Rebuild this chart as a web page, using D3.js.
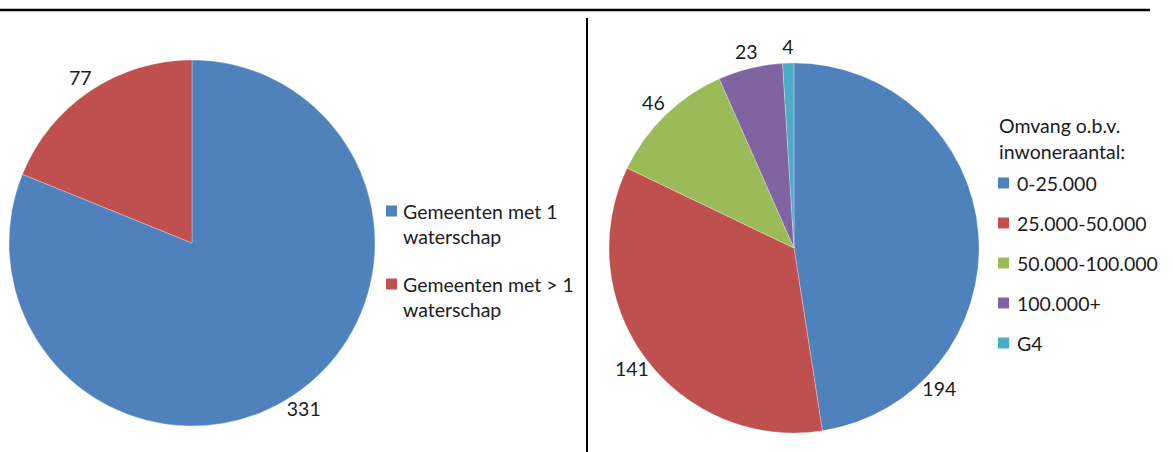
<!DOCTYPE html>
<html>
<head>
<meta charset="utf-8">
<script src="https://cdn.jsdelivr.net/npm/d3@7"></script>
<style>
  body { margin: 0; background: #fff; }
  text { font-family: Lato, "Open Sans", sans-serif; fill: #1c1c1c; }
</style>
</head>
<body>
<div id="chart"></div>
<script>
// Left pie: municipalities by number of water boards
const leftCategories = ['Gemeenten met 1 waterschap', 'Gemeenten met > 1 waterschap'];
const leftLegendLines = [['Gemeenten met 1', 'waterschap'], ['Gemeenten met > 1', 'waterschap']];
const leftValues = [331, 77];
const leftColors = ['#4F81BD', '#C0504D'];

// Right pie: municipalities by population size
const rightTitle = ['Omvang o.b.v.', 'inwoneraantal:'];
const rightCategories = ['0-25.000', '25.000-50.000', '50.000-100.000', '100.000+', 'G4'];
const rightValues = [194, 141, 46, 23, 4];
const rightColors = ['#4F81BD', '#C0504D', '#9BBB59', '#8064A2', '#4BACC6'];

const width = 1173, height = 452;
const fontSize = 19.5;

const svg = d3.select('#chart')
  .append('svg')
  .attr('width', width)
  .attr('height', height);

svg.append('rect').attr('width', width).attr('height', height).attr('fill', '#fff');

// frame lines
svg.append('line')
  .attr('x1', 0).attr('x2', 1150).attr('y1', 10).attr('y2', 10)
  .attr('stroke', '#000').attr('stroke-width', 2.5);
svg.append('line')
  .attr('x1', 587).attr('x2', 587).attr('y1', 18).attr('y2', height)
  .attr('stroke', '#000').attr('stroke-width', 2);

const pie = d3.pie().sort(null).value(d => d);

// draws one pie with outside-end labels
function drawPie(cx, cy, r, values, colors, labelAngles) {
  const g = svg.append('g').attr('transform', `translate(${cx},${cy})`);
  const arcs = pie(values);
  const arc = d3.arc().innerRadius(0).outerRadius(r);

  g.selectAll('path')
    .data(arcs)
    .enter()
    .append('path')
    .attr('d', arc)
    .attr('fill', (d, i) => colors[i])
    .attr('stroke', 'rgba(255,255,255,0.35)')
    .attr('stroke-width', 0.8);

  const labelR = r + 17;
  const angle = (d, i) => labelAngles[i] != null ? labelAngles[i] : (d.startAngle + d.endAngle) / 2;
  g.selectAll('text.lbl')
    .data(arcs)
    .enter()
    .append('text')
    .attr('class', 'lbl')
    .attr('x', (d, i) => labelR * Math.sin(angle(d, i)))
    .attr('y', (d, i) => -labelR * Math.cos(angle(d, i)))
    .attr('text-anchor', 'middle')
    .attr('dominant-baseline', 'central')
    .attr('font-size', fontSize)
    .text(d => d.data);
}

drawPie(192, 243, 183, leftValues, leftColors, []);
// the "194" label sits lower right in the original
drawPie(794, 248, 185, rightValues, rightColors, [134 * Math.PI / 180]);

// left legend
const leftLegend = svg.append('g').attr('transform', 'translate(386,0)');
leftLegendLines.forEach((lines, i) => {
  const y0 = 211 + i * 73;
  leftLegend.append('rect')
    .attr('x', 0).attr('y', y0 - 5.5).attr('width', 11).attr('height', 11)
    .attr('fill', leftColors[i]);
  lines.forEach((t, j) => {
    leftLegend.append('text')
      .attr('x', 17).attr('y', y0 + j * 25)
      .attr('dominant-baseline', 'central')
      .attr('font-size', fontSize)
      .text(t);
  });
});

// right legend
const rightLegend = svg.append('g').attr('transform', 'translate(998,0)');
rightTitle.forEach((t, j) => {
  rightLegend.append('text')
    .attr('x', 1).attr('y', 125 + j * 26)
    .attr('dominant-baseline', 'central')
    .attr('font-size', fontSize)
    .text(t);
});
rightCategories.forEach((c, i) => {
  const y = 183 + i * 40;
  rightLegend.append('rect')
    .attr('x', 0).attr('y', y - 5.5).attr('width', 11).attr('height', 11)
    .attr('fill', rightColors[i]);
  rightLegend.append('text')
    .attr('x', 19).attr('y', y)
    .attr('dominant-baseline', 'central')
    .attr('font-size', fontSize)
    .text(c);
});
</script>
</body>
</html>
